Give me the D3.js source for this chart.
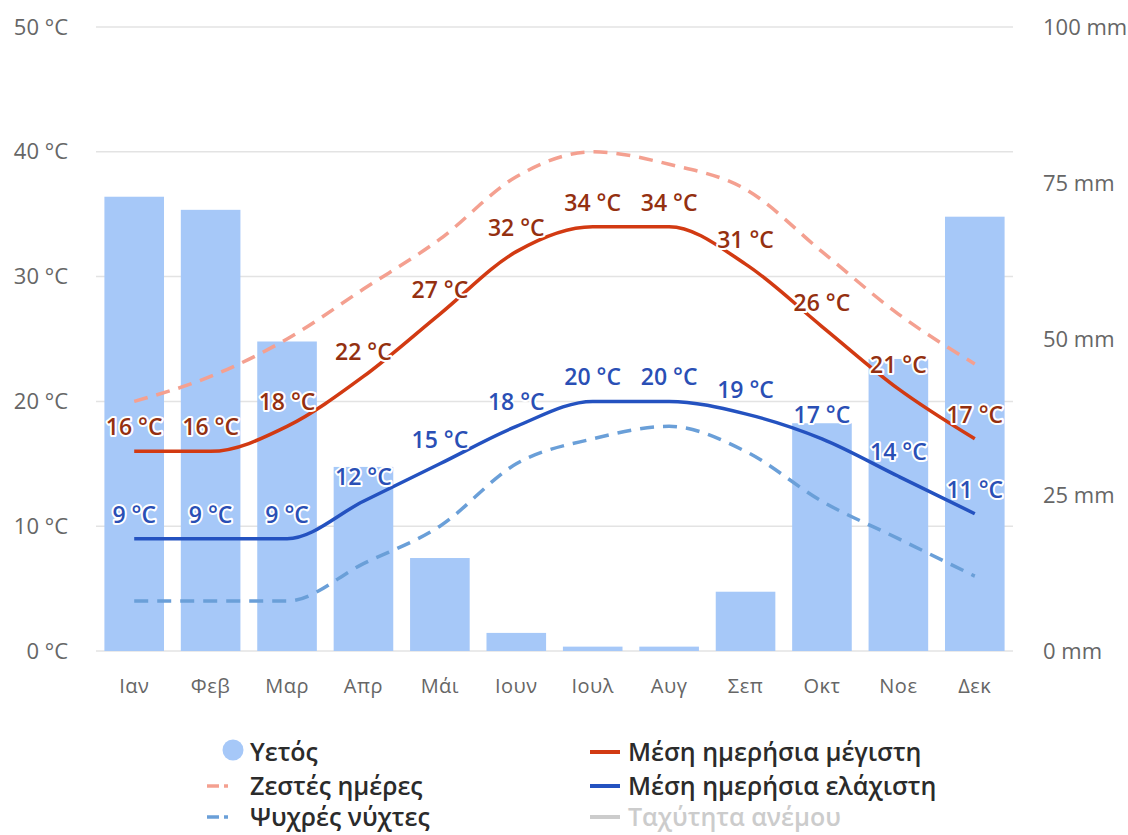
<!DOCTYPE html>
<html>
<head>
<meta charset="utf-8">
<script src="https://cdn.jsdelivr.net/npm/d3@7"></script>
<style>
  html, body { margin: 0; padding: 0; background: #fff; }
  svg { display: block; font-family: "Open Sans", "Noto Sans", sans-serif; }
</style>
</head>
<body>
<svg id="chart" width="1128" height="835"></svg>
<script>
// Monthly climate values
const months = ["Ιαν", "Φεβ", "Μαρ", "Απρ", "Μάι", "Ιουν", "Ιουλ", "Αυγ", "Σεπ", "Οκτ", "Νοε", "Δεκ"];
const rainfall = [72.8, 70.7, 49.6, 29.5, 14.9, 2.9, 0.7, 0.7, 9.5, 36.5, 46.8, 69.6];   // mm
const hotDays = [20, 22, 25, 29, 33, 38, 40, 39, 37, 32, 27, 23];                    // °C
const avgMax = [16, 16, 18, 22, 27, 32, 34, 34, 31, 26, 21, 17];                     // °C
const avgMin = [9, 9, 9, 12, 15, 18, 20, 20, 19, 17, 14, 11];                        // °C
const coldNights = [4, 4, 4, 7, 10, 15, 17, 18, 16, 12, 9, 6];                       // °C
const tempTicks = [0, 10, 20, 30, 40, 50];
const rainTicks = [0, 25, 50, 75, 100];

const svg = d3.select("#chart");

const plotLeft = 96, plotRight = 1013, plotTop = 27, plotBottom = 651;

const x = d3.scaleBand().domain(months).range([plotLeft, plotRight]).paddingInner(0.22).paddingOuter(0.11);
const cx = m => x(m) + x.bandwidth() / 2;
const yT = d3.scaleLinear().domain([0, 50]).range([plotBottom, plotTop]);
const yP = d3.scaleLinear().domain([0, 100]).range([plotBottom, plotTop]);

// grid
svg.append("g").selectAll("line").data(tempTicks).join("line")
  .attr("x1", plotLeft).attr("x2", plotRight)
  .attr("y1", d => yT(d)).attr("y2", d => yT(d))
  .attr("stroke", "#e3e3e3").attr("stroke-width", 1.5);

// left axis (temperature)
const axisL = d3.axisLeft(yT).tickValues(tempTicks).tickSize(0).tickPadding(0).tickFormat(d => d + " °C");
svg.append("g").attr("transform", "translate(68,0)").call(axisL)
  .call(g => g.select(".domain").remove())
  .selectAll("text").attr("font-size", 22).attr("fill", "#666").attr("font-family", "Open Sans");

// right axis (rainfall)
const axisR = d3.axisRight(yP).tickValues(rainTicks).tickSize(0).tickPadding(0).tickFormat(d => d + " mm");
svg.append("g").attr("transform", "translate(1043,0)").call(axisR)
  .call(g => g.select(".domain").remove())
  .selectAll("text").attr("font-size", 22).attr("fill", "#666").attr("font-family", "Open Sans");

// bottom axis (months)
const axisB = d3.axisBottom(x).tickSize(0).tickPadding(0);
svg.append("g").attr("transform", "translate(0,679)").call(axisB)
  .call(g => g.select(".domain").remove())
  .selectAll("text").attr("font-size", 20).attr("fill", "#666")
  .attr("letter-spacing", 0.5).attr("font-family", "Open Sans");

// rainfall bars
svg.append("g").selectAll("rect").data(months).join("rect")
  .attr("x", m => x(m)).attr("width", x.bandwidth())
  .attr("y", (m, i) => yP(rainfall[i]))
  .attr("height", (m, i) => plotBottom - yP(rainfall[i]))
  .attr("fill", "#a6c8f8");

// temperature lines
const line = vals => d3.line()
  .x((d, i) => cx(months[i]))
  .y(d => yT(d))
  .curve(d3.curveMonotoneX)(vals);

const series = [
  { vals: hotDays, color: "#f4a090", dash: "14,9" },
  { vals: coldNights, color: "#6a9fd8", dash: "14,9" },
  { vals: avgMax, color: "#d23a12", dash: null },
  { vals: avgMin, color: "#2452c0", dash: null }
];
svg.append("g").selectAll("path").data(series).join("path")
  .attr("d", s => line(s.vals))
  .attr("fill", "none")
  .attr("stroke", s => s.color)
  .attr("stroke-width", 3.5)
  .attr("stroke-dasharray", s => s.dash);

// value labels
const labelSets = [
  { vals: avgMax, color: "#943010" },
  { vals: avgMin, color: "#2a4fb5" }
];
labelSets.forEach(ls => {
  svg.append("g").selectAll("text").data(ls.vals).join("text")
    .attr("x", (d, i) => cx(months[i]))
    .attr("y", d => yT(d) - 16)
    .attr("text-anchor", "middle")
    .attr("font-size", 23)
    .attr("font-weight", 600)
    .attr("fill", ls.color)
    .attr("stroke", "#fff").attr("stroke-width", 4).attr("stroke-linejoin", "round")
    .attr("paint-order", "stroke")
    .text(d => d + " °C");
});

// legend
const legendLeft = [
  { name: "Υετός", type: "circle", color: "#a6c8f8", text: "#2b2b2b" },
  { name: "Ζεστές ημέρες", type: "dash", color: "#f4a090", text: "#2b2b2b" },
  { name: "Ψυχρές νύχτες", type: "dash", color: "#6a9fd8", text: "#2b2b2b" }
];
const legendRight = [
  { name: "Μέση ημερήσια μέγιστη", color: "#d23a12", text: "#2b2b2b" },
  { name: "Μέση ημερήσια ελάχιστη", color: "#2452c0", text: "#2b2b2b" },
  { name: "Ταχύτητα ανέμου", color: "#cccccc", text: "#cccccc" }
];
const rowY = [752, 786, 817];

const lg = svg.append("g").attr("font-size", 25).attr("font-weight", 600);
legendLeft.forEach((d, i) => {
  const y = rowY[i];
  if (d.type === "circle") {
    lg.append("circle").attr("cx", 233).attr("cy", y - 2).attr("r", 10.5).attr("fill", d.color);
  } else {
    lg.append("line").attr("x1", 207).attr("x2", 219).attr("y1", y).attr("y2", y)
      .attr("stroke", d.color).attr("stroke-width", 3.5);
    lg.append("line").attr("x1", 224).attr("x2", 228).attr("y1", y).attr("y2", y)
      .attr("stroke", d.color).attr("stroke-width", 3.5);
  }
  lg.append("text").attr("x", 250).attr("y", y).attr("dy", "0.35em")
    .attr("fill", d.text).text(d.name);
});
legendRight.forEach((d, i) => {
  const y = rowY[i];
  lg.append("line").attr("x1", 590).attr("x2", 620).attr("y1", y).attr("y2", y)
    .attr("stroke", d.color).attr("stroke-width", 4);
  lg.append("text").attr("x", 628).attr("y", y).attr("dy", "0.35em")
    .attr("fill", d.text).text(d.name);
});
</script>
</body>
</html>
